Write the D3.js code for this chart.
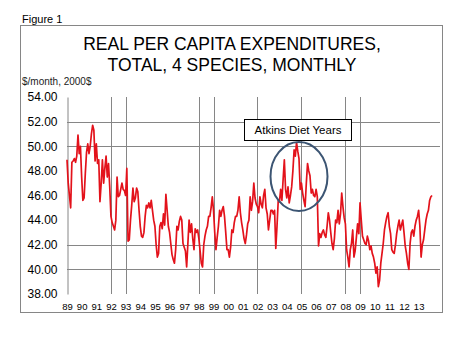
<!DOCTYPE html>
<html><head><meta charset="utf-8">
<script src="https://cdn.jsdelivr.net/npm/d3@7"></script>
<style>
html,body{margin:0;padding:0;background:#fff;}
svg{display:block;font-family:Arial,"Liberation Sans",sans-serif;}
</style></head>
<body><svg id="chart" width="455" height="339"></svg>
<script>
// ---- data ----
const startYear = 1989;
const yearLabels = ["89","90","91","92","93","94","95","96","97","98","99","00","01","02","03","04","05","06","07","08","09","10","11","12","13"];
const yTickValues = [38,40,42,44,46,48,50,52,54];
const gridValues = [52,50,42,40];
const markerYears = [1992,1993,1998,1999,2002,2005,2008,2009];
// monthly real per capita expenditures, Jan 1989 - Dec 2013
const expenditures = [
  48.9,47.0,46.0,45.0,48.7,48.8,49.0,48.7,49.2,50.9,49.4,50.0,
  47.5,45.6,45.8,47.8,49.5,50.2,49.4,50.0,51.0,51.7,51.3,48.8,
  50.2,48.6,48.9,45.5,47.0,48.9,47.0,48.2,49.2,47.5,48.6,46.7,
  44.3,43.8,43.5,43.2,44.0,47.5,45.9,46.0,46.5,47.0,46.5,46.4,
  46.0,48.2,42.3,42.4,44.0,45.2,46.6,45.5,45.8,46.6,46.3,44.8,
  43.5,42.7,42.6,43.0,44.3,45.2,45.0,45.4,45.0,45.6,44.8,44.0,
  43.5,42.0,41.0,41.3,43.5,43.8,43.3,44.5,43.6,46.1,44.8,43.5,
  43.0,42.1,41.2,40.8,40.5,41.6,43.5,43.2,43.9,44.3,44.0,42.1,
  41.8,41.5,40.2,42.1,44.0,43.0,43.7,42.5,41.6,43.3,43.0,43.2,
  42.5,41.5,40.5,40.2,42.0,42.7,43.2,43.5,44.3,44.3,45.0,45.9,
  44.8,43.0,41.6,42.6,43.5,44.8,44.3,44.8,45.1,44.3,43.0,41.6,
  41.6,41.0,41.8,43.2,43.0,43.8,44.3,44.3,44.8,45.9,44.6,43.8,
  43.2,42.5,42.1,42.8,43.7,44.0,45.9,44.8,45.5,47.0,45.8,45.3,
  45.1,44.6,45.9,45.3,45.0,46.0,46.5,45.0,44.5,43.2,44.0,44.8,
  44.8,44.5,44.8,41.7,43.5,45.6,45.5,46.5,45.6,47.3,48.9,46.5,
  45.8,46.7,45.4,46.0,46.7,48.0,49.7,49.2,50.3,49.6,49.0,46.5,
  47.0,46.2,45.6,45.1,47.0,48.6,48.0,47.6,46.2,46.5,46.0,45.9,
  46.5,45.9,41.9,42.9,42.6,43.0,43.2,42.8,42.6,43.5,44.6,44.0,
  43.0,42.1,41.6,42.5,44.0,43.8,44.8,43.7,44.5,46.2,45.1,44.2,
  43.7,41.6,41.0,40.2,41.6,42.1,43.2,41.0,41.5,42.6,43.7,42.9,
  45.4,44.0,42.7,42.4,42.1,42.0,42.7,42.3,41.6,41.9,41.3,41.0,
  40.5,39.7,40.2,38.6,39.1,40.5,41.3,42.1,43.2,43.8,44.3,44.6,
  43.5,42.9,41.6,41.4,41.3,42.0,42.9,43.5,44.0,43.2,43.6,44.0,
  43.0,41.9,41.3,40.5,40.0,42.1,43.0,43.2,42.7,43.5,44.0,44.3,
  44.8,43.5,41.0,42.0,42.4,43.2,44.0,44.5,44.8,45.6,45.9,46.0
];

// ---- layout ----
const svg = d3.select("#chart");
const plot = {left:67, right:440, top:97, bottom:294};
const x = d3.scaleLinear().domain([0, expenditures.length]).range([plot.left, 433.3]);
const y = d3.scaleLinear().domain([38, 54]).range([plot.bottom, plot.top]);
const grey = "#868686";

svg.append("text").attr("x",22).attr("y",23).attr("font-size",11).attr("fill","#000").text("Figure 1");
svg.append("rect").attr("x",20.5).attr("y",25.5).attr("width",422).attr("height",287)
  .attr("fill","#fff").attr("stroke",grey).attr("stroke-width",1);

svg.append("text").attr("x",232).attr("y",50).attr("text-anchor","middle").attr("font-size",17.5).text("REAL PER CAPITA EXPENDITURES,");
svg.append("text").attr("x",232).attr("y",71).attr("text-anchor","middle").attr("font-size",17.5).text("TOTAL, 4 SPECIES, MONTHLY");
svg.append("text").attr("x",22).attr("y",85).attr("font-size",10).attr("fill","#222").text("$/month, 2000$");

// horizontal gridlines
svg.append("g").selectAll("line").data(gridValues).join("line")
  .attr("x1",plot.left).attr("x2",plot.right)
  .attr("y1",d=>Math.round(y(d))+0.5).attr("y2",d=>Math.round(y(d))+0.5)
  .attr("stroke",grey).attr("stroke-width",1);

// vertical marker lines
svg.append("g").selectAll("line").data(markerYears).join("line")
  .attr("x1",d=>Math.round(x((d-startYear)*12))+0.5).attr("x2",d=>Math.round(x((d-startYear)*12))+0.5)
  .attr("y1",plot.top).attr("y2",plot.bottom)
  .attr("stroke",grey).attr("stroke-width",1);

// y axis
const yAxis = d3.axisLeft(y).tickValues(yTickValues).tickFormat(d3.format(".2f")).tickSize(0).tickPadding(10);
const ya = svg.append("g").attr("transform",`translate(${plot.left+0.5},0)`).call(yAxis);
ya.select(".domain").attr("stroke",grey);
ya.selectAll("text").attr("font-size",12).attr("font-family","Arial, 'Liberation Sans', sans-serif").attr("fill","#000");

// x labels
const xAxis = d3.axisBottom(x).tickValues(yearLabels.map((_,i)=>i*12)).tickFormat((d,i)=>yearLabels[i]).tickSize(0).tickPadding(9);
const xa = svg.append("g").attr("transform",`translate(0,${plot.bottom})`).call(xAxis);
xa.select(".domain").remove();
xa.selectAll("text").attr("font-size",9.5).attr("font-family","Arial, 'Liberation Sans', sans-serif").attr("fill","#000");

// data line
const line = d3.line().x((d,i)=>x(i)).y(d=>y(d));
svg.append("path").datum(expenditures).attr("d",line)
  .attr("fill","none").attr("stroke","#e3121b").attr("stroke-width",1.7).attr("stroke-linejoin","round");

// annotation
svg.append("ellipse").attr("cx",299).attr("cy",176.5).attr("rx",28.5).attr("ry",34.5)
  .attr("fill","none").attr("stroke","#3c5573").attr("stroke-width",2);
svg.append("rect").attr("x",244.5).attr("y",119.5).attr("width",107).attr("height",21)
  .attr("fill","#fff").attr("stroke","#000").attr("stroke-width",1);
svg.append("text").attr("x",298).attr("y",134).attr("text-anchor","middle").attr("font-size",11.5).text("Atkins Diet Years");
</script></body></html>
